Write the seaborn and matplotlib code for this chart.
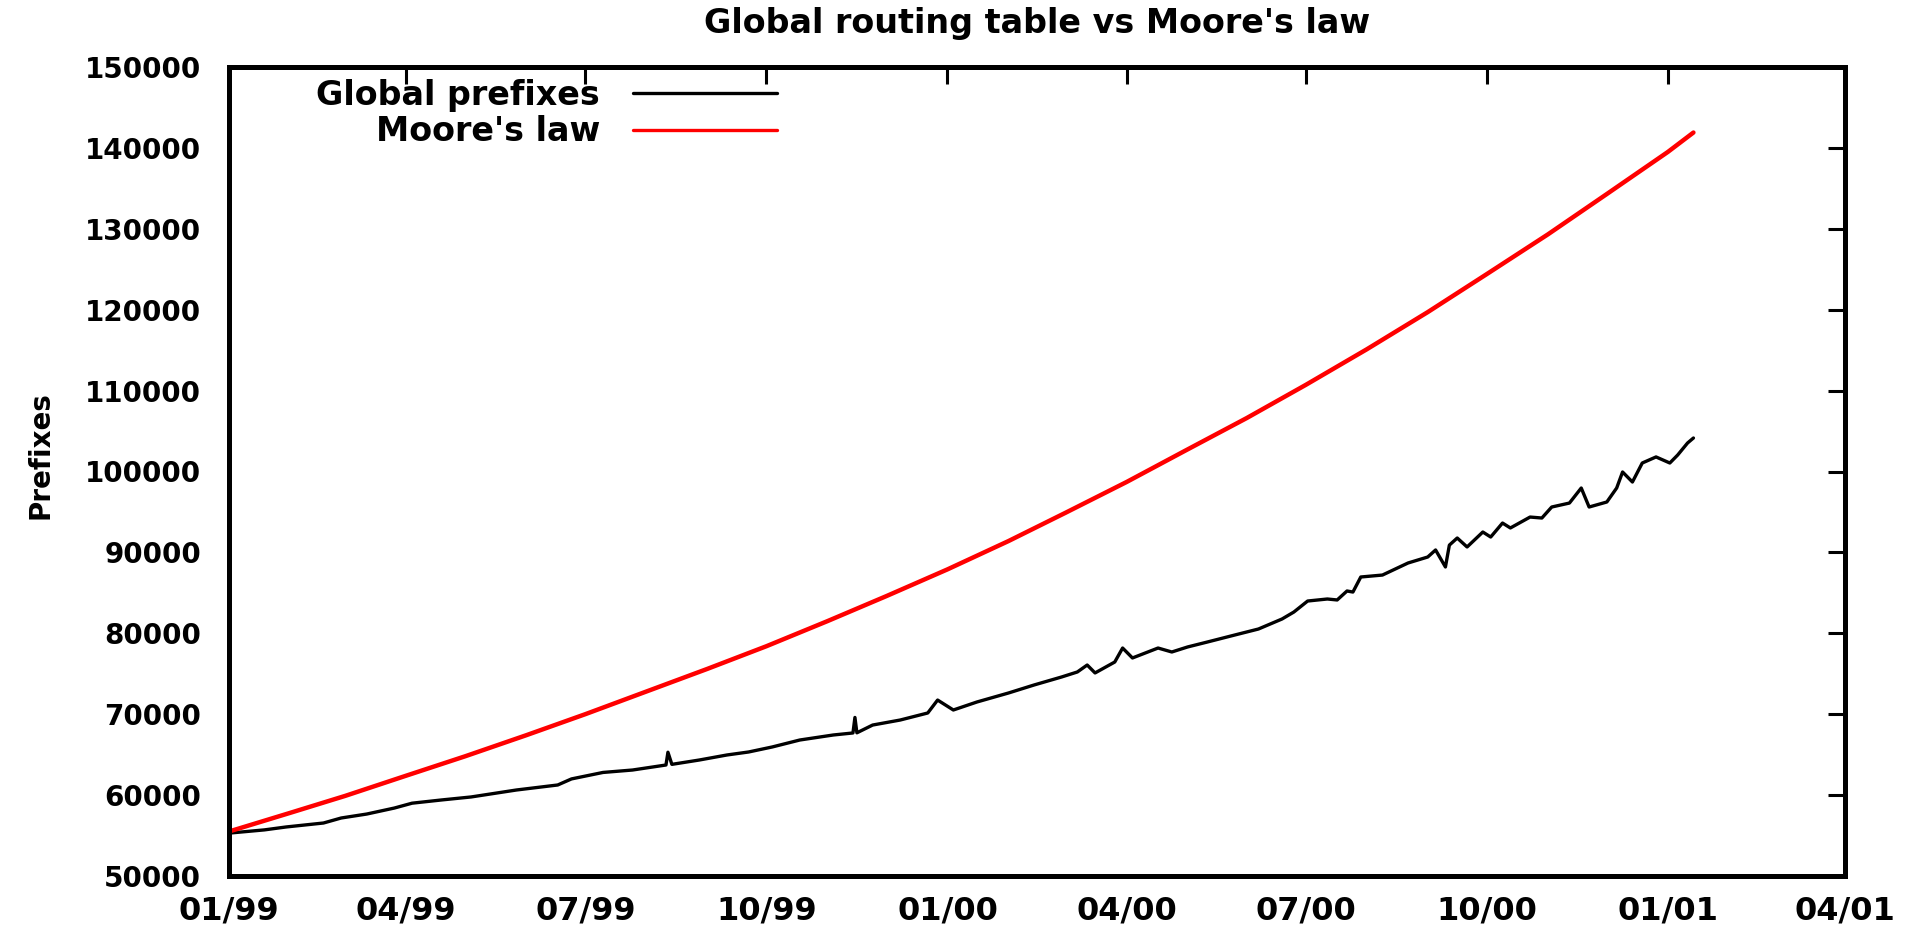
import matplotlib
matplotlib.use("Agg")
import matplotlib.pyplot as plt
import matplotlib.dates as mdates
import seaborn as sns
import pandas as pd

# ---- data ----
prefix_dates = [
    "1999-01-01", "1999-01-19", "1999-01-30", "1999-02-18", "1999-02-27", "1999-03-12",
    "1999-03-26", "1999-04-04", "1999-04-19", "1999-05-04", "1999-05-27", "1999-06-17",
    "1999-06-24", "1999-07-10", "1999-07-25", "1999-08-11", "1999-08-12", "1999-08-14",
    "1999-08-28", "1999-09-11", "1999-09-22", "1999-10-04", "1999-10-18", "1999-11-04",
    "1999-11-14", "1999-11-15", "1999-11-16", "1999-11-24", "1999-12-08", "1999-12-22",
    "1999-12-27", "2000-01-04", "2000-01-16", "2000-02-01", "2000-02-14", "2000-02-28",
    "2000-03-07", "2000-03-12", "2000-03-16", "2000-03-26", "2000-03-30", "2000-04-04",
    "2000-04-17", "2000-04-24", "2000-05-02", "2000-05-12", "2000-05-26", "2000-06-07",
    "2000-06-19", "2000-06-25", "2000-07-02", "2000-07-12", "2000-07-17", "2000-07-22",
    "2000-07-25", "2000-07-29", "2000-08-09", "2000-08-22", "2000-09-01", "2000-09-05",
    "2000-09-10", "2000-09-12", "2000-09-16", "2000-09-21", "2000-09-29", "2000-10-03",
    "2000-10-09", "2000-10-13", "2000-10-23", "2000-10-29", "2000-11-03", "2000-11-12",
    "2000-11-18", "2000-11-22", "2000-12-01", "2000-12-06", "2000-12-09", "2000-12-14",
    "2000-12-19", "2000-12-26", "2001-01-02", "2001-01-06", "2001-01-11", "2001-01-14",
]
prefix_values = [
    55300, 55700, 56060, 56550, 57170, 57660,
    58400, 59000, 59400, 59770, 60630, 61250,
    62000, 62800, 63100, 63720, 65300, 63800,
    64340, 64960, 65330, 65950, 66810, 67430,
    67680, 69600, 67700, 68660, 69280, 70150,
    71750, 70520, 71510, 72620, 73610, 74600,
    75220, 76080, 75100, 76450, 78180, 76950,
    78180, 77690, 78310, 78920, 79790, 80530,
    81770, 82630, 83990, 84240, 84120, 85230,
    85100, 86960, 87200, 88690, 89430, 90300,
    88200, 90900, 91780, 90670, 92520, 91900,
    93630, 93020, 94370, 94250, 95610, 96100,
    97960, 95610, 96230, 97960, 99940, 98700,
    101050, 101800, 101050, 102040, 103520, 104140,
]

moore_dates = [
    "1999-01-01", "1999-02-01", "1999-03-01", "1999-04-01", "1999-05-01", "1999-06-01",
    "1999-07-01", "1999-08-01", "1999-09-01", "1999-10-01", "1999-11-01", "1999-12-01",
    "2000-01-01", "2000-02-01", "2000-03-01", "2000-04-01", "2000-05-01", "2000-06-01",
    "2000-07-01", "2000-08-01", "2000-09-01", "2000-10-01", "2000-11-01", "2000-12-01",
    "2001-01-01", "2001-01-14",
]
moore_values = [
    55500, 57800, 59900, 62400, 64800, 67400,
    70000, 72800, 75600, 78400, 81500, 84600,
    87900, 91400, 94900, 98700, 102600, 106600,
    110700, 115100, 119700, 124400, 129300, 134300,
    139500, 141900,
]

series_names = ["Global prefixes", "Moore's law"]
series_colors = ["#000000", "#ff0000"]
title_text = "Global routing table vs Moore's law"
y_label = "Prefixes"
x_start, x_end = "1999-01-01", "2001-04-01"
y_ticks = list(range(50000, 150001, 10000))

# ---- build frames ----
df = pd.concat([
    pd.DataFrame({"date": pd.to_datetime(prefix_dates), "value": prefix_values,
                  "series": series_names[0]}),
    pd.DataFrame({"date": pd.to_datetime(moore_dates), "value": moore_values,
                  "series": series_names[1]}),
], ignore_index=True)

sns.set_style("white")
plt.rcParams["font.family"] = ["DejaVu Sans"]
plt.rcParams["text.color"] = "black"
plt.rcParams["axes.labelcolor"] = "black"
plt.rcParams["xtick.color"] = "black"
plt.rcParams["ytick.color"] = "black"

fig = plt.figure(figsize=(19.13, 9.25), dpi=100)
ax = fig.add_axes([229 / 1913, 1 - 876 / 925, (1845 - 229) / 1913, (876 - 67) / 925])

sns.lineplot(data=df, x="date", y="value", hue="series", palette=series_colors,
             hue_order=series_names, ax=ax, estimator=None, sort=True, legend=True)
lines = ax.get_lines()
lines[0].set_linewidth(2.4)
lines[1].set_linewidth(3.2)

ax.set_xlim(pd.Timestamp(x_start), pd.Timestamp(x_end))
ax.set_ylim(y_ticks[0], y_ticks[-1])
ax.set_yticks(y_ticks)
ax.xaxis.set_major_locator(mdates.MonthLocator(bymonth=[1, 4, 7, 10]))
ax.xaxis.set_major_formatter(mdates.DateFormatter("%m/%y"))
ax.yaxis.set_major_formatter(matplotlib.ticker.FuncFormatter(lambda v, p: f"{int(v)}"))

for s in ax.spines.values():
    s.set_visible(True)
    s.set_linewidth(3.6)
    s.set_color("black")

ax.tick_params(axis="both", which="major", direction="in", top=True, right=True,
               length=12, width=2.2, color="black", labelcolor="black")
ax.tick_params(axis="x", labelsize=23, pad=14)
ax.tick_params(axis="y", labelsize=20, pad=20)
for lab in ax.get_xticklabels() + ax.get_yticklabels():
    lab.set_fontweight("bold")

ax.set_xlabel("")
ax.set_ylabel(y_label, fontsize=20, fontweight="bold", color="black")
ax.yaxis.set_label_coords(-0.108, 0.52)

fig.text(1037 / 1913, 1 - 24 / 925, title_text, ha="center", va="center",
         fontsize=24, fontweight="bold", color="black")

handles, labels = ax.get_legend_handles_labels()
leg = ax.legend(handles, labels, loc="upper right", bbox_to_anchor=(0.339, 0.985),
                frameon=False, markerfirst=False, fontsize=24, handlelength=4.3,
                handletextpad=1.0, labelspacing=0.1, borderpad=0, borderaxespad=0)
for t in leg.get_texts():
    t.set_fontweight("bold")
    t.set_color("black")
for h, c in zip(leg.get_lines(), series_colors):
    h.set_linewidth(2.4)
    h.set_color(c)

fig.savefig("out.png", dpi=100)
